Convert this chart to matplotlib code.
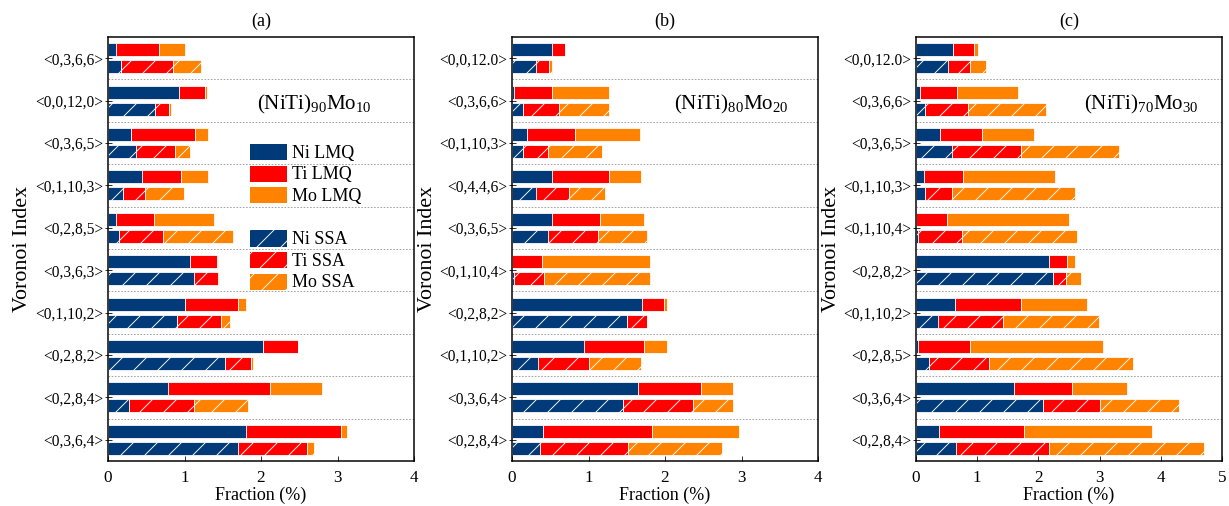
import numpy as np
import matplotlib
matplotlib.use("Agg")
import matplotlib.pyplot as plt
from matplotlib.patches import Patch

plt.rcParams['font.family'] = ['Liberation Serif', 'DejaVu Serif']
plt.rcParams['mathtext.fontset'] = 'custom'
plt.rcParams['mathtext.rm'] = 'Liberation Serif'
plt.rcParams['mathtext.it'] = 'Liberation Serif:italic'
plt.rcParams['hatch.linewidth'] = 0.9

NI_COLOR = '#003a78'
TI_COLOR = '#ff0000'
MO_COLOR = '#ff8200'

# ---- (NiTi)90Mo10 ----
idx_a = ['<0,3,6,6>', '<0,0,12,0>', '<0,3,6,5>', '<0,1,10,3>', '<0,2,8,5>',
         '<0,3,6,3>', '<0,1,10,2>', '<0,2,8,2>', '<0,2,8,4>', '<0,3,6,4>']
ni_lmq_a = [0.10, 0.93, 0.30, 0.45, 0.10, 1.07, 1.00, 2.02, 0.78, 1.80]
ti_lmq_a = [0.57, 0.34, 0.84, 0.50, 0.50, 0.35, 0.70, 0.47, 1.34, 1.24]
mo_lmq_a = [0.34, 0.03, 0.17, 0.36, 0.78, 0.02, 0.11, 0.00, 0.68, 0.09]
ni_ssa_a = [0.17, 0.62, 0.37, 0.20, 0.15, 1.13, 0.90, 1.53, 0.27, 1.70]
ti_ssa_a = [0.68, 0.18, 0.50, 0.29, 0.57, 0.31, 0.58, 0.34, 0.85, 0.90]
mo_ssa_a = [0.37, 0.02, 0.20, 0.50, 0.92, 0.01, 0.11, 0.02, 0.71, 0.09]

# ---- (NiTi)80Mo20 ----
idx_b = ['<0,0,12.0>', '<0,3,6,6>', '<0,1,10,3>', '<0,4,4,6>', '<0,3,6,5>',
         '<0,1,10,4>', '<0,2,8,2>', '<0,1,10,2>', '<0,3,6,4>', '<0,2,8,4>']
ni_lmq_b = [0.52, 0.03, 0.20, 0.52, 0.52, 0.00, 1.70, 0.94, 1.65, 0.40]
ti_lmq_b = [0.17, 0.49, 0.62, 0.75, 0.63, 0.39, 0.29, 0.79, 0.82, 1.43]
mo_lmq_b = [0.00, 0.75, 0.85, 0.42, 0.57, 1.42, 0.03, 0.29, 0.42, 1.14]
ni_ssa_b = [0.32, 0.14, 0.14, 0.32, 0.47, 0.03, 1.50, 0.34, 1.45, 0.36]
ti_ssa_b = [0.17, 0.47, 0.33, 0.43, 0.66, 0.39, 0.27, 0.66, 0.92, 1.16]
mo_ssa_b = [0.03, 0.66, 0.70, 0.47, 0.64, 1.39, 0.00, 0.69, 0.52, 1.23]

# ---- (NiTi)70Mo30 ----
idx_c = ['<0,0,12.0>', '<0,3,6,6>', '<0,3,6,5>', '<0,1,10,3>', '<0,1,10,4>',
         '<0,2,8,2>', '<0,1,10,2>', '<0,2,8,5>', '<0,3,6,4>', '<0,2,8,4>']
ni_lmq_c = [0.61, 0.07, 0.40, 0.13, 0.00, 2.17, 0.64, 0.03, 1.60, 0.37]
ti_lmq_c = [0.33, 0.60, 0.68, 0.64, 0.50, 0.30, 1.08, 0.85, 0.95, 1.40]
mo_lmq_c = [0.08, 1.00, 0.84, 1.50, 2.00, 0.12, 1.07, 2.17, 0.89, 2.09]
ni_ssa_c = [0.52, 0.14, 0.59, 0.14, 0.04, 2.24, 0.36, 0.22, 2.07, 0.66]
ti_ssa_c = [0.37, 0.71, 1.12, 0.45, 0.71, 0.21, 1.06, 0.97, 0.93, 1.51]
mo_ssa_c = [0.26, 1.28, 1.61, 2.00, 1.88, 0.24, 1.57, 2.36, 1.30, 2.53]

panels = [
    ('(a)', idx_a, (ni_lmq_a, ti_lmq_a, mo_lmq_a), (ni_ssa_a, ti_ssa_a, mo_ssa_a),
     4, '(NiTi)$_{90}$Mo$_{10}$', 0.675),
    ('(b)', idx_b, (ni_lmq_b, ti_lmq_b, mo_lmq_b), (ni_ssa_b, ti_ssa_b, mo_ssa_b),
     4, '(NiTi)$_{80}$Mo$_{20}$', 0.715),
    ('(c)', idx_c, (ni_lmq_c, ti_lmq_c, mo_lmq_c), (ni_ssa_c, ti_ssa_c, mo_ssa_c),
     5, '(NiTi)$_{70}$Mo$_{30}$', 0.735),
]

lefts = [108 / 1229, 512 / 1229, 916 / 1229]
width = 306 / 1229
bottom = 1 - 461 / 506
height = (461 - 37) / 506

fig = plt.figure(figsize=(1229 / 72, 506 / 72), dpi=72)

bar_h = 0.31
off = 0.2
colors = [NI_COLOR, TI_COLOR, MO_COLOR]

for k, (title, labels, lmq, ssa, xmax, comp, comp_x) in enumerate(panels):
    ax = fig.add_axes([lefts[k], bottom, width, height])
    y = np.arange(len(labels))

    left = np.zeros(len(labels))
    for vals, c in zip(lmq, colors):
        ax.barh(y - off, vals, height=bar_h, left=left, color=c,
                edgecolor='white', linewidth=0.8)
        left += np.array(vals)

    left = np.zeros(len(labels))
    for vals, c in zip(ssa, colors):
        ax.barh(y + off, vals, height=bar_h, left=left, color=c,
                edgecolor='white', linewidth=0.8, hatch='/')
        left += np.array(vals)

    for s in np.arange(0.5, len(labels) - 0.5, 1.0):
        ax.axhline(s, color='#8c8c8c', linestyle=(0, (2, 2)), linewidth=0.8)

    ax.set_ylim(len(labels) - 0.5, -0.5)
    ax.set_xlim(0, xmax)
    ax.set_xticks(range(xmax + 1))
    ax.set_yticks(y)
    ax.set_yticklabels(labels, fontsize=15.5)
    ax.tick_params(axis='x', direction='in', length=5, labelsize=17, pad=9)
    ax.tick_params(axis='y', direction='inout', length=7, pad=1)
    for sp in ax.spines.values():
        sp.set_linewidth(1.5)

    ax.set_title(title, fontsize=18, pad=11)
    ax.set_xlabel('Fraction (%)', fontsize=18, labelpad=1)
    ax.set_ylabel('Voronoi Index', fontsize=22, labelpad=3)
    ax.text(comp_x, 0.84, comp, transform=ax.transAxes, fontsize=21,
            ha='center', va='center')

    if k == 0:
        handles = [
            Patch(facecolor=NI_COLOR, edgecolor='white', label='Ni LMQ'),
            Patch(facecolor=TI_COLOR, edgecolor='white', label='Ti LMQ'),
            Patch(facecolor=MO_COLOR, edgecolor='white', label='Mo LMQ'),
            Patch(facecolor='none', edgecolor='none', label=' '),
            Patch(facecolor=NI_COLOR, edgecolor='white', hatch='/', label='Ni SSA'),
            Patch(facecolor=TI_COLOR, edgecolor='white', hatch='/', label='Ti SSA'),
            Patch(facecolor=MO_COLOR, edgecolor='white', hatch='/', label='Mo SSA'),
        ]
        ax.legend(handles=handles, loc='upper left', bbox_to_anchor=(0.42, 0.78),
                  frameon=False, fontsize=18, handlelength=2.1, handleheight=1.1,
                  labelspacing=0.16, handletextpad=0.3, borderpad=0.2)

fig.savefig('out.png', dpi=72)
